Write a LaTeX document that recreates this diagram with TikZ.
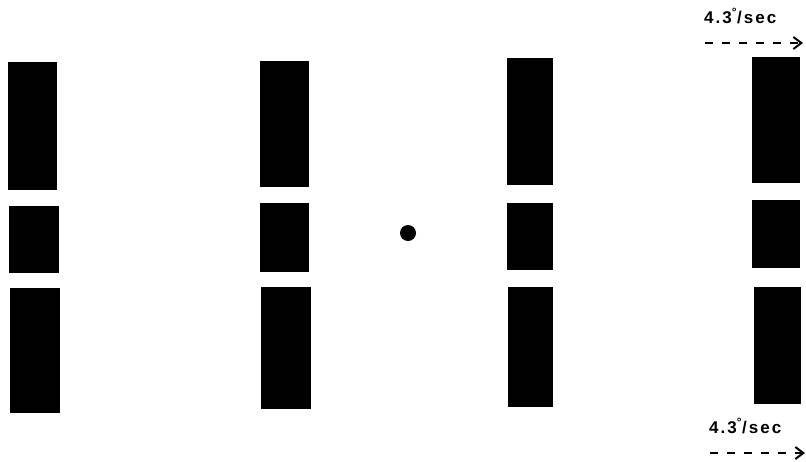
\documentclass[tikz,border=0pt]{standalone}
\usepackage{fontspec}
\setmainfont{Liberation Sans}
\newfontfamily\lblfont[LetterSpace=12]{Liberation Sans Bold}
\usetikzlibrary{arrows.meta}
\begin{document}
\begin{tikzpicture}[x=1pt,y=-1pt,
  bar/.style={fill=black},
  rate/.style={font=\lblfont\fontsize{17}{17}\selectfont, anchor=base west, inner sep=0pt},
  motion/.style={line width=2.3pt, dash pattern=on 8pt off 9pt, -{Straight Barb[length=8pt,width=12pt,line width=2pt]}}]
\useasboundingbox (0,0) rectangle (806,461);
% column 1
\fill[bar] (8,62) rectangle (57,190);
\fill[bar] (9,206) rectangle (59,273);
\fill[bar] (10,288) rectangle (60,413);
% column 2
\fill[bar] (260,61) rectangle (309,187);
\fill[bar] (260,203) rectangle (309,272);
\fill[bar] (261,287) rectangle (311,409);
% fixation dot
\fill (408,233) circle (8);
% column 3
\fill[bar] (507,58) rectangle (553,185);
\fill[bar] (507,203) rectangle (553,270);
\fill[bar] (508,287) rectangle (553,407);
% column 4
\fill[bar] (752,57) rectangle (800,183);
\fill[bar] (752,200) rectangle (800,268);
\fill[bar] (754,287) rectangle (801,404);
% labels
\node[rate] (t1) at (704,23) {4.3\textsuperscript{\large\textdegree}/sec};
\node[rate] (t2) at (709,433) {4.3\textsuperscript{\large\textdegree}/sec};
\coordinate (a1s) at (705,43);
\coordinate (a1e) at (803,43);
\coordinate (a2s) at (710,453);
\coordinate (a2e) at (805,453);
\draw[motion] (a1s) -- (a1e);
\draw[motion] (a2s) -- (a2e);
\end{tikzpicture}
\end{document}
